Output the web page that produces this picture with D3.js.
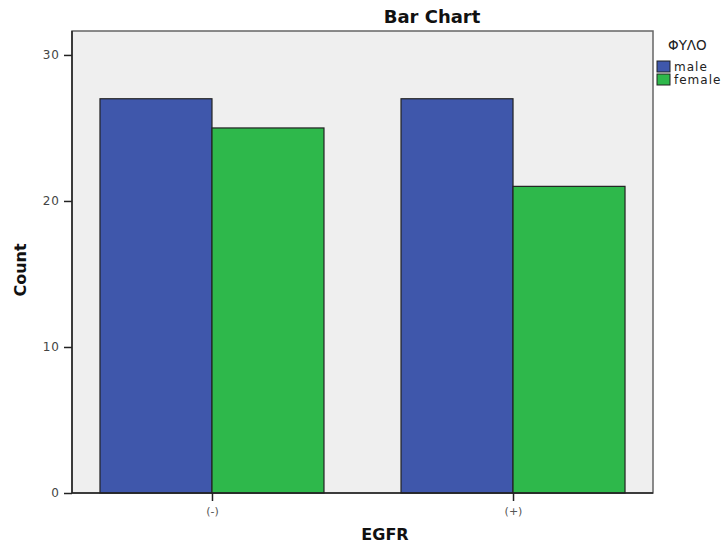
<!DOCTYPE html>
<html><head><meta charset="utf-8">
<script src="https://cdn.jsdelivr.net/npm/d3@7"></script>
<style>body{margin:0;background:#fff;} svg{display:block;}</style>
</head><body>
<svg id="c" width="727" height="551"></svg>
<script>
const categories = ["(-)", "(+)"];
const groups = ["male", "female"];
const maleValues = [27, 27];
const femaleValues = [25, 21];
const yTicks = [0, 10, 20, 30];
const colors = {male: "#3f57ab", female: "#2eb84b"};

const svg = d3.select("#c");
const L = 72, R = 653, T = 31, B = 493;

const y = d3.scaleLinear().domain([0, 31.64]).range([B, T]);
const x = d3.scalePoint().domain(categories).range([L, R]).padding(0.465);
const xs = d3.scaleBand().domain(groups).range([-112, 112]);

svg.append("rect").attr("x", L).attr("y", T).attr("width", R - L).attr("height", B - T)
  .attr("fill", "#efefef").attr("stroke", "#666").attr("stroke-width", 1.5);

const data = [];
categories.forEach((c, i) => {
  data.push({cat: c, g: "male", v: maleValues[i]});
  data.push({cat: c, g: "female", v: femaleValues[i]});
});

svg.append("g").selectAll("rect").data(data).join("rect")
  .attr("x", d => x(d.cat) + xs(d.g))
  .attr("y", d => y(d.v))
  .attr("width", xs.bandwidth())
  .attr("height", d => y(0) - y(d.v))
  .attr("fill", d => colors[d.g])
  .attr("stroke", "#222").attr("stroke-width", 1.2);

// y axis
const ya = svg.append("g").attr("transform", `translate(${L},0)`)
  .call(d3.axisLeft(y).tickValues(yTicks).tickSize(8).tickPadding(4));
ya.select(".domain").attr("stroke", "#222").attr("stroke-width", 1.5).attr("d", `M0,${B}V${T}`);
ya.selectAll(".tick line").attr("stroke", "#222").attr("stroke-width", 1.5);
ya.selectAll(".tick text").attr("font-family", "DejaVu Sans, sans-serif").attr("font-size", 12)
  .attr("fill", "#444").attr("letter-spacing", "1px");

// x axis
const xa = svg.append("g").attr("transform", `translate(0,${B})`)
  .call(d3.axisBottom(x).tickSize(8).tickPadding(6));
xa.select(".domain").attr("stroke", "#222").attr("stroke-width", 1.5).attr("d", `M${L},0H${R}`);
xa.selectAll(".tick line").attr("stroke", "#222").attr("stroke-width", 1.5);
xa.selectAll(".tick text").attr("font-family", "DejaVu Sans, sans-serif").attr("font-size", 11)
  .attr("fill", "#555");

// Titles
svg.append("text").attr("x", 432).attr("y", 23).attr("text-anchor", "middle")
  .attr("font-family", "DejaVu Sans, sans-serif").attr("font-weight", "bold").attr("font-size", 18)
  .attr("fill", "#111").text("Bar Chart");
svg.append("text").attr("x", 385).attr("y", 540).attr("text-anchor", "middle")
  .attr("font-family", "DejaVu Sans, sans-serif").attr("font-weight", "bold").attr("font-size", 16)
  .attr("fill", "#111").text("EGFR");
svg.append("text").attr("transform", "translate(26,270) rotate(-90)").attr("text-anchor", "middle")
  .attr("font-family", "DejaVu Sans, sans-serif").attr("font-weight", "bold").attr("font-size", 16)
  .attr("fill", "#111").text("Count");

// Legend
const lg = svg.append("g");
lg.append("text").attr("x", 668).attr("y", 50).attr("font-family", "DejaVu Sans, sans-serif")
  .attr("font-size", 13.5).attr("fill", "#222").text("ΦΥΛΟ");
groups.forEach((g, i) => {
  lg.append("rect").attr("x", 657).attr("y", 61 + i * 13).attr("width", 13).attr("height", 11)
    .attr("fill", colors[g]).attr("stroke", "#222").attr("stroke-width", 1);
  lg.append("text").attr("x", 674).attr("y", 71 + i * 13).attr("font-family", "DejaVu Sans, sans-serif")
    .attr("font-size", 12).attr("fill", "#222").attr("letter-spacing", "1px").text(g);
});
</script>
</body></html>
